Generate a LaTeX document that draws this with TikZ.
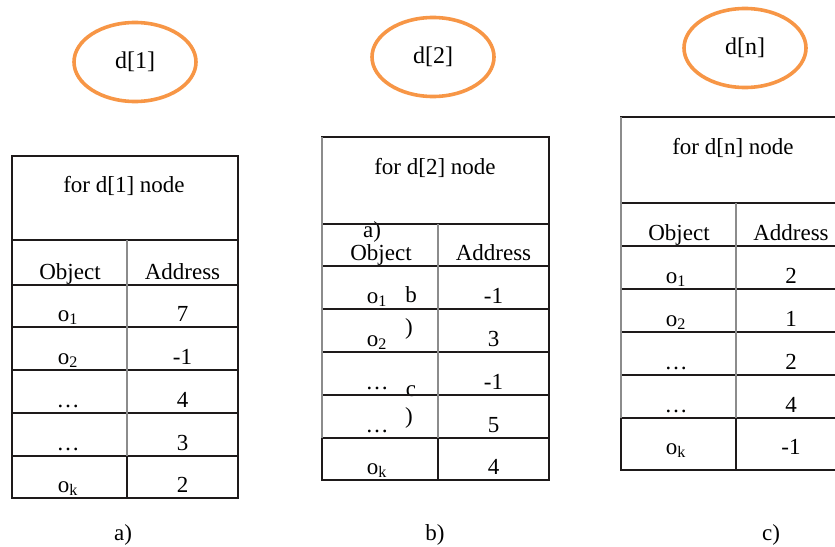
\documentclass[tikz,border=0pt]{standalone}
\usepackage{fontspec}
\setmainfont{Liberation Serif}
\usetikzlibrary{shapes.geometric}
\definecolor{orangec}{RGB}{247,150,70}
\definecolor{gryc}{RGB}{140,140,140}
\definecolor{blkc}{RGB}{30,26,26}
\begin{document}
\begin{tikzpicture}[x=1pt,y=-1pt,
  txt/.style={font=\fontsize{23}{27}\selectfont, inner sep=0pt, anchor=base},
  oval/.style={draw=orangec, line width=3.6pt, ellipse, minimum width=122pt, minimum height=79pt, inner sep=0pt, font=\fontsize{24}{28}\selectfont},
  blk/.style={draw=blkc, line width=1.8pt},
  gry/.style={draw=gryc, line width=1.2pt}]
\useasboundingbox (0,0) rectangle (835,546);
\begin{scope}
\clip (0,0) rectangle (835,546);
% ovals
\node[oval] (d1) at (135,62) {\raisebox{-4pt}{d[1]}};
\node[oval] (d2) at (433,57) {\raisebox{-3pt}{d[2]}};
\node[oval] (dn) at (745,48) {\raisebox{-4pt}{d[n]}};

% ---------- table 1 ----------
\node[txt] (t1h) at (124,192) {for d[1] node};
\node[txt] (t1o) at (70,279) {Object};
\node[txt] (t1a) at (182.5,279) {Address};
\node[txt] (t1r1o) at (68,321) {o\textsubscript{1}};
\node[txt] (t1r1a) at (182.5,321) {7};
\node[txt] (t1r2o) at (68,364) {o\textsubscript{2}};
\node[txt] (t1r2a) at (182.5,364) {-1};
\node[txt] (t1r3o) at (68,407) {\ldots};
\node[txt] (t1r3a) at (182.5,407) {4};
\node[txt] (t1r4o) at (68,450) {\ldots};
\node[txt] (t1r4a) at (182.5,450) {3};
\node[txt] (t1r5o) at (68,492) {o\textsubscript{k}};
\node[txt] (t1r5a) at (182.5,492) {2};
\foreach \y in {156,240,285,327,370,413,456,498} \draw[blk] (11,\y) -- (239,\y);
\draw[blk] (12,156) -- (12,498);
\draw[blk] (238,156) -- (238,498);
\draw[gry] (127,240) -- (127,456);
\draw[blk] (127,456) -- (127,498);

% ---------- table 2 ----------
\node[txt] (t2h) at (435,174) {for d[2] node};
\node[txt] (t2x1) at (372,237) {a)};
\node[txt] (t2o) at (381,260) {Object};
\node[txt] (t2a) at (493.5,260) {Address};
\node[txt] (t2r1o) at (377,303) {o\textsubscript{1}};
\node[txt] (t2x2) at (411,302) {b};
\node[txt] (t2r1a) at (493.5,303) {-1};
\node[txt] (t2r2o) at (377,346) {o\textsubscript{2}};
\node[txt] (t2x3) at (409,334) {)};
\node[txt] (t2r2a) at (493.5,346) {3};
\node[txt] (t2r3o) at (377,389) {\ldots};
\node[txt] (t2x4) at (411,396) {c};
\node[txt] (t2r3a) at (493.5,389) {-1};
\node[txt] (t2r4o) at (377,432) {\ldots};
\node[txt] (t2x5) at (409,423) {)};
\node[txt] (t2r4a) at (493.5,432) {5};
\node[txt] (t2r5o) at (377,474) {o\textsubscript{k}};
\node[txt] (t2r5a) at (493.5,474) {4};
\foreach \y in {137,224,266,309,352,395,438,480} \draw[blk] (321,\y) -- (550,\y);
\draw[gry] (322,137) -- (322,438);
\draw[blk] (322,438) -- (322,480);
\draw[blk] (549,137) -- (549,480);
\draw[gry] (438,224) -- (438,438);
\draw[blk] (438,438) -- (438,480);

% ---------- table 3 ----------
\node[txt] (t3h) at (733,154) {for d[n] node};
\node[txt] (t3o) at (679,240) {Object};
\node[txt] (t3a) at (791,240) {Address};
\node[txt] (t3r1o) at (676,283) {o\textsubscript{1}};
\node[txt] (t3r1a) at (791,283) {2};
\node[txt] (t3r2o) at (676,326) {o\textsubscript{2}};
\node[txt] (t3r2a) at (791,326) {1};
\node[txt] (t3r3o) at (676,369) {\ldots};
\node[txt] (t3r3a) at (791,369) {2};
\node[txt] (t3r4o) at (676,412) {\ldots};
\node[txt] (t3r4a) at (791,412) {4};
\node[txt] (t3r5o) at (676,454) {o\textsubscript{k}};
\node[txt] (t3r5a) at (791,454) {-1};
\foreach \y in {117,203,246,289,332,375,418,470} \draw[blk] (620,\y) -- (840,\y);
\draw[gry] (621,117) -- (621,418);
\draw[blk] (621,418) -- (621,470);
\draw[gry] (736,203) -- (736,418);
\draw[blk] (736,418) -- (736,470);

% captions
\node[txt] (ca) at (123,540) {a)};
\node[txt] (cb) at (435,540) {b)};
\node[txt] (cc) at (771,540) {c)};
\end{scope}
\end{tikzpicture}
\end{document}
